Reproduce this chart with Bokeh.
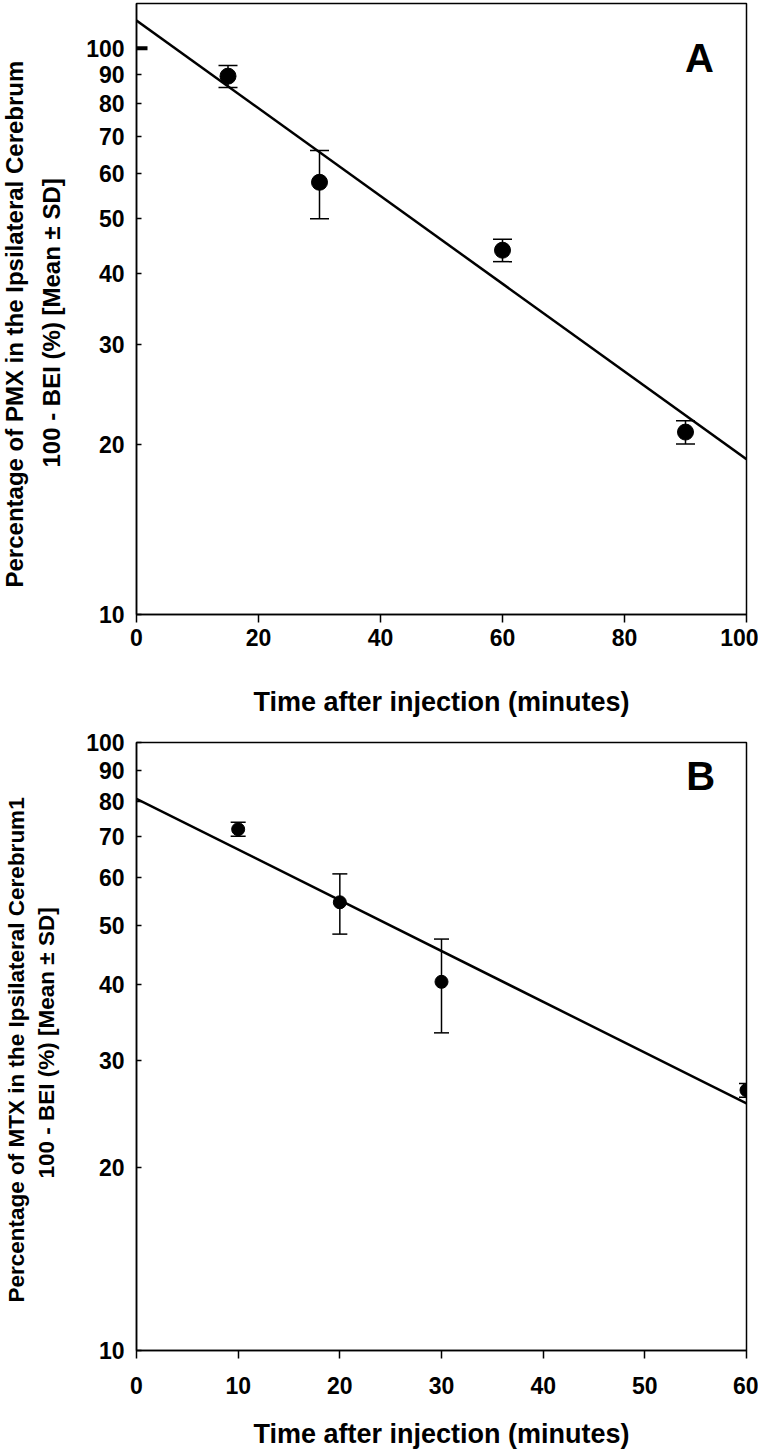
import numpy as np
from bokeh.plotting import figure
from bokeh.models import (ColumnDataSource, Whisker, TeeHead, FixedTicker,
                          PrintfTickFormatter, Title, Label, Range1d)
from bokeh.layouts import column
from bokeh.embed import file_html
from bokeh.resources import INLINE

# ---------------- data ----------------
# Panel A: PMX
a_time = [15, 30, 60, 90]
a_mean = [89.3, 58.0, 44.0, 21.0]
a_sd = [4.0, 8.0, 2.0, 1.0]
a_t0_time = [0]
a_t0_value = [100]
a_fit_time = [0, 100]
a_fit_value = [112.0, 18.8]
a_xticks = [0, 20, 40, 60, 80, 100]

# Panel B: MTX
b_time = [10, 20, 30, 60]
b_mean = [72.0, 54.6, 40.4, 26.8]
b_sd = [1.9, 6.2, 7.1, 0.7]
b_fit_time = [0, 60]
b_fit_value = [80.8, 25.5]
b_xticks = [0, 10, 20, 30, 40, 50, 60]

y_ticks = [10, 20, 30, 40, 50, 60, 70, 80, 90, 100]

x_title = "Time after injection (minutes)"
a_ytitle1 = "Percentage of PMX in the Ipsilateral Cerebrum"
b_ytitle1 = "Percentage of MTX in the Ipsilateral Cerebrum1"
ytitle2 = "100 - BEI (%) [Mean \u00b1 SD]"

FONT = "Liberation Sans"


def make_panel(times, means, sds, fit_t, fit_v, xticks, xmax, ytop,
               frame_h, border_top, border_bottom, ytitle1, ytfont,
               off1, off2, s1, s2, letter, letter_xy, msize, capw,
               tick_std, title_std):
    p = figure(x_range=Range1d(0, xmax), y_range=Range1d(10, ytop),
               y_axis_type="log", frame_width=610, frame_height=frame_h,
               min_border_left=136, min_border_right=12,
               min_border_top=border_top, min_border_bottom=border_bottom,
               output_backend="svg", toolbar_location=None)
    p.xgrid.visible = False
    p.ygrid.visible = False
    p.outline_line_color = "black"
    p.outline_line_width = 1.5
    p.outline_line_alpha = 1.0
    p.background_fill_color = "white"
    p.border_fill_color = "white"

    # x axis
    xa = p.xaxis[0]
    xa.ticker = FixedTicker(ticks=xticks, minor_ticks=[])
    xa.major_tick_in = 0
    xa.major_tick_out = 8
    xa.minor_tick_in = 0
    xa.minor_tick_out = 0
    xa.axis_line_width = 1.5
    xa.axis_line_color = "black"
    xa.major_tick_line_width = 1.5
    xa.major_tick_line_color = "black"
    xa.major_label_text_font = FONT
    xa.major_label_text_font_style = "bold"
    xa.major_label_text_font_size = "23px"
    xa.major_label_text_color = "black"
    xa.major_label_standoff = tick_std
    xa.axis_label = x_title
    xa.axis_label_text_font = FONT
    xa.axis_label_text_font_style = "bold"
    xa.axis_label_text_font_size = "27px"
    xa.axis_label_text_color = "black"
    xa.axis_label_standoff = title_std

    # y axis
    ya = p.yaxis[0]
    ya.ticker = FixedTicker(ticks=y_ticks, minor_ticks=[])
    ya.formatter = PrintfTickFormatter(format="%d")
    ya.major_tick_in = 5
    ya.major_tick_out = 0
    ya.minor_tick_in = 0
    ya.minor_tick_out = 0
    ya.axis_line_width = 1.5
    ya.axis_line_color = "black"
    ya.major_tick_line_width = 1.5
    ya.major_tick_line_color = "black"
    ya.major_label_text_font = FONT
    ya.major_label_text_font_style = "bold"
    ya.major_label_text_font_size = "23px"
    ya.major_label_text_color = "black"
    ya.major_label_standoff = 12

    t2 = Title(text=ytitle2, align="left", offset=off2, text_font=FONT,
               text_font_size=ytfont, text_font_style="bold",
               text_color="black", standoff=s2)
    p.add_layout(t2, "left")
    t1 = Title(text=ytitle1, align="left", offset=off1, text_font=FONT,
               text_font_size=ytfont, text_font_style="bold",
               text_color="black", standoff=s1)
    p.add_layout(t1, "left")

    # regression line
    p.line(fit_t, fit_v, line_color="black", line_width=2.5)

    # error bars
    upper = [m + s for m, s in zip(means, sds)]
    lower = [m - s for m, s in zip(means, sds)]
    src = ColumnDataSource(dict(t=times, m=means, up=upper, lo=lower))
    w = Whisker(source=src, base="t", upper="up", lower="lo",
                line_color="black", line_width=1.5,
                upper_head=TeeHead(size=capw, line_color="black", line_width=1.5),
                lower_head=TeeHead(size=capw, line_color="black", line_width=1.5))
    p.add_layout(w)

    p.scatter("t", "m", source=src, marker="circle", size=msize,
              fill_color="black", line_color="black")

    lab = Label(x=letter_xy[0], y=letter_xy[1], text=letter,
                text_align="center", text_baseline="middle",
                text_font=FONT, text_font_style="bold",
                text_font_size="40px", text_color="black")
    p.add_layout(lab)
    return p


pa = make_panel(a_time, a_mean, a_sd, a_fit_time, a_fit_value, a_xticks,
                100, 120.0, 611, 3, 110, a_ytitle1, "24px", 27, 147,
                -21, 37, "A", (92.3, 96.2), 16, 19, 6, 38)
# starting value at time 0 (no spread), drawn as a short thick bar
pa.scatter(a_t0_time, a_t0_value, marker="dash", size=22, line_width=4,
           line_color="black")

pb = make_panel(b_time, b_mean, b_sd, b_fit_time, b_fit_value, b_xticks,
                60, 100, 608, 18, 103, b_ytitle1, "22.5px", 48, 172,
                -42, 49, "B", (55.5, 88.2), 13, 15, 18, 22)

layout = column(pa, pb)
open("out.html", "w").write(file_html(layout, INLINE))
